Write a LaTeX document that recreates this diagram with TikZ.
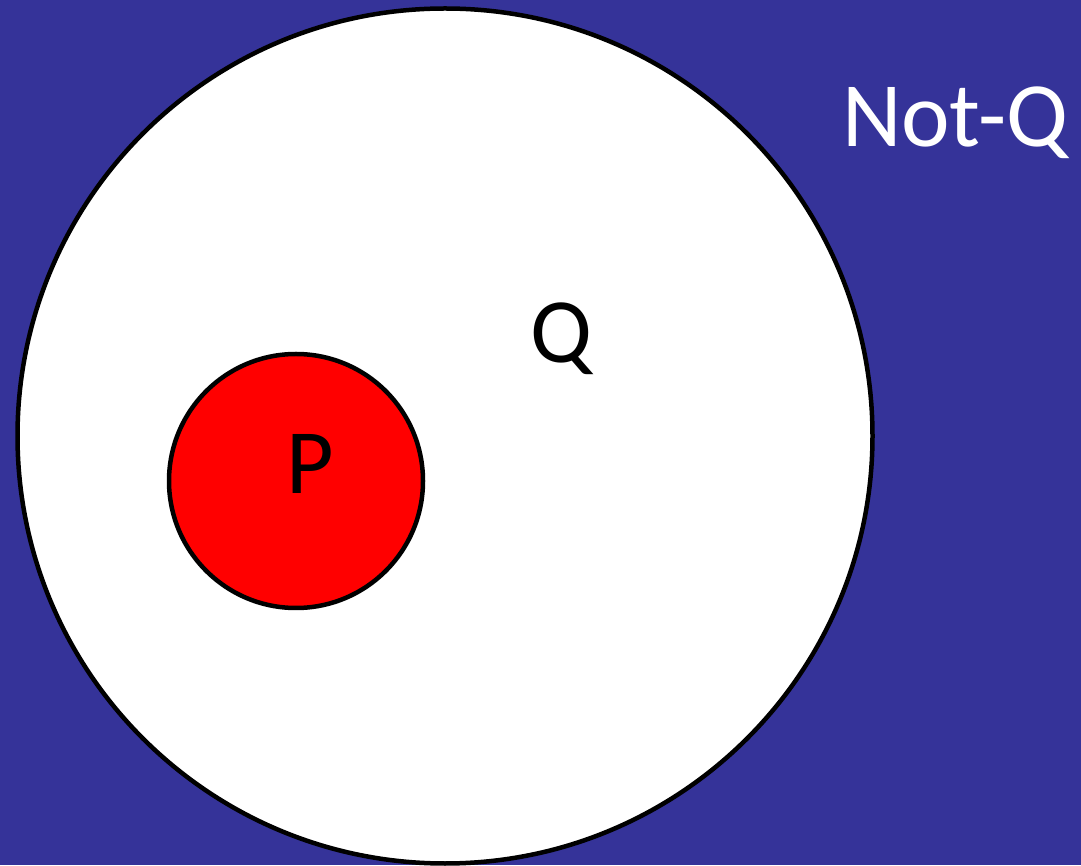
\documentclass[tikz,border=0pt]{standalone}
\usepackage{fontspec}
\setmainfont{Carlito}
\definecolor{bgblue}{RGB}{53,51,153}
\begin{document}
\begin{tikzpicture}[x=1pt, y=1pt, line join=round, line cap=round,
	set/.style={circle, draw=black, line width=4.5pt, inner sep=0pt},
	lbl/.style={anchor=base, font=\fontsize{92}{94}\selectfont}]
		\useasboundingbox (0,0) rectangle (1081,865);
		\fill[bgblue] (0,0) rectangle (1081,865);
		\node[set, fill=white, minimum size=855] (Qset) at (445,429) {};
		\node[set, fill=red, minimum size=254] (Pset) at (296,384) {};
		\node[lbl, text=white] (notQ) at (955,718) {Not-Q};
		\node[lbl] (Q) at (561,502) {Q};
		\node[lbl] (P) at (310,371) {P};
\end{tikzpicture}
\end{document}
